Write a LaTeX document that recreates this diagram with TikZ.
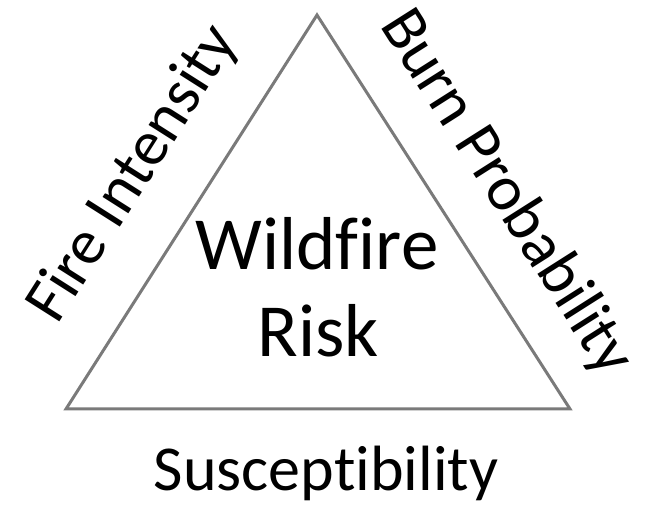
\documentclass[tikz,border=0pt]{standalone}
\usepackage{fontspec}
\setmainfont[Ligatures=NoCommon]{Carlito}
\begin{document}
\begin{tikzpicture}[x=1pt,y=-1pt,
  lbl/.style={inner sep=0pt, font=\fontsize{64}{70}\selectfont, text=black},
  big/.style={inner sep=0pt, font=\fontsize{75}{87}\selectfont, text=black},
  tri/.style={draw=black!52, line width=3pt, line join=miter}]
\useasboundingbox (0,0) rectangle (649,505);
\coordinate (A) at (317,15);
\coordinate (B) at (66,409);
\coordinate (C) at (570,409);
\draw[tri] (A) -- (B) -- (C) -- cycle;
\node[big, anchor=base] (w) at (317,270) {Wildfire};
\node[big, anchor=base] (risk) at (318,357) {Risk};
\node[lbl, anchor=base] (sus) at (326,490) {Susceptibility};
\node[lbl, rotate=57.6] (fi) at (134,174) {Fire Intensity};
\node[lbl, rotate=-57.6] (bp) at (506,193) {Burn Probability};
\end{tikzpicture}
\end{document}
